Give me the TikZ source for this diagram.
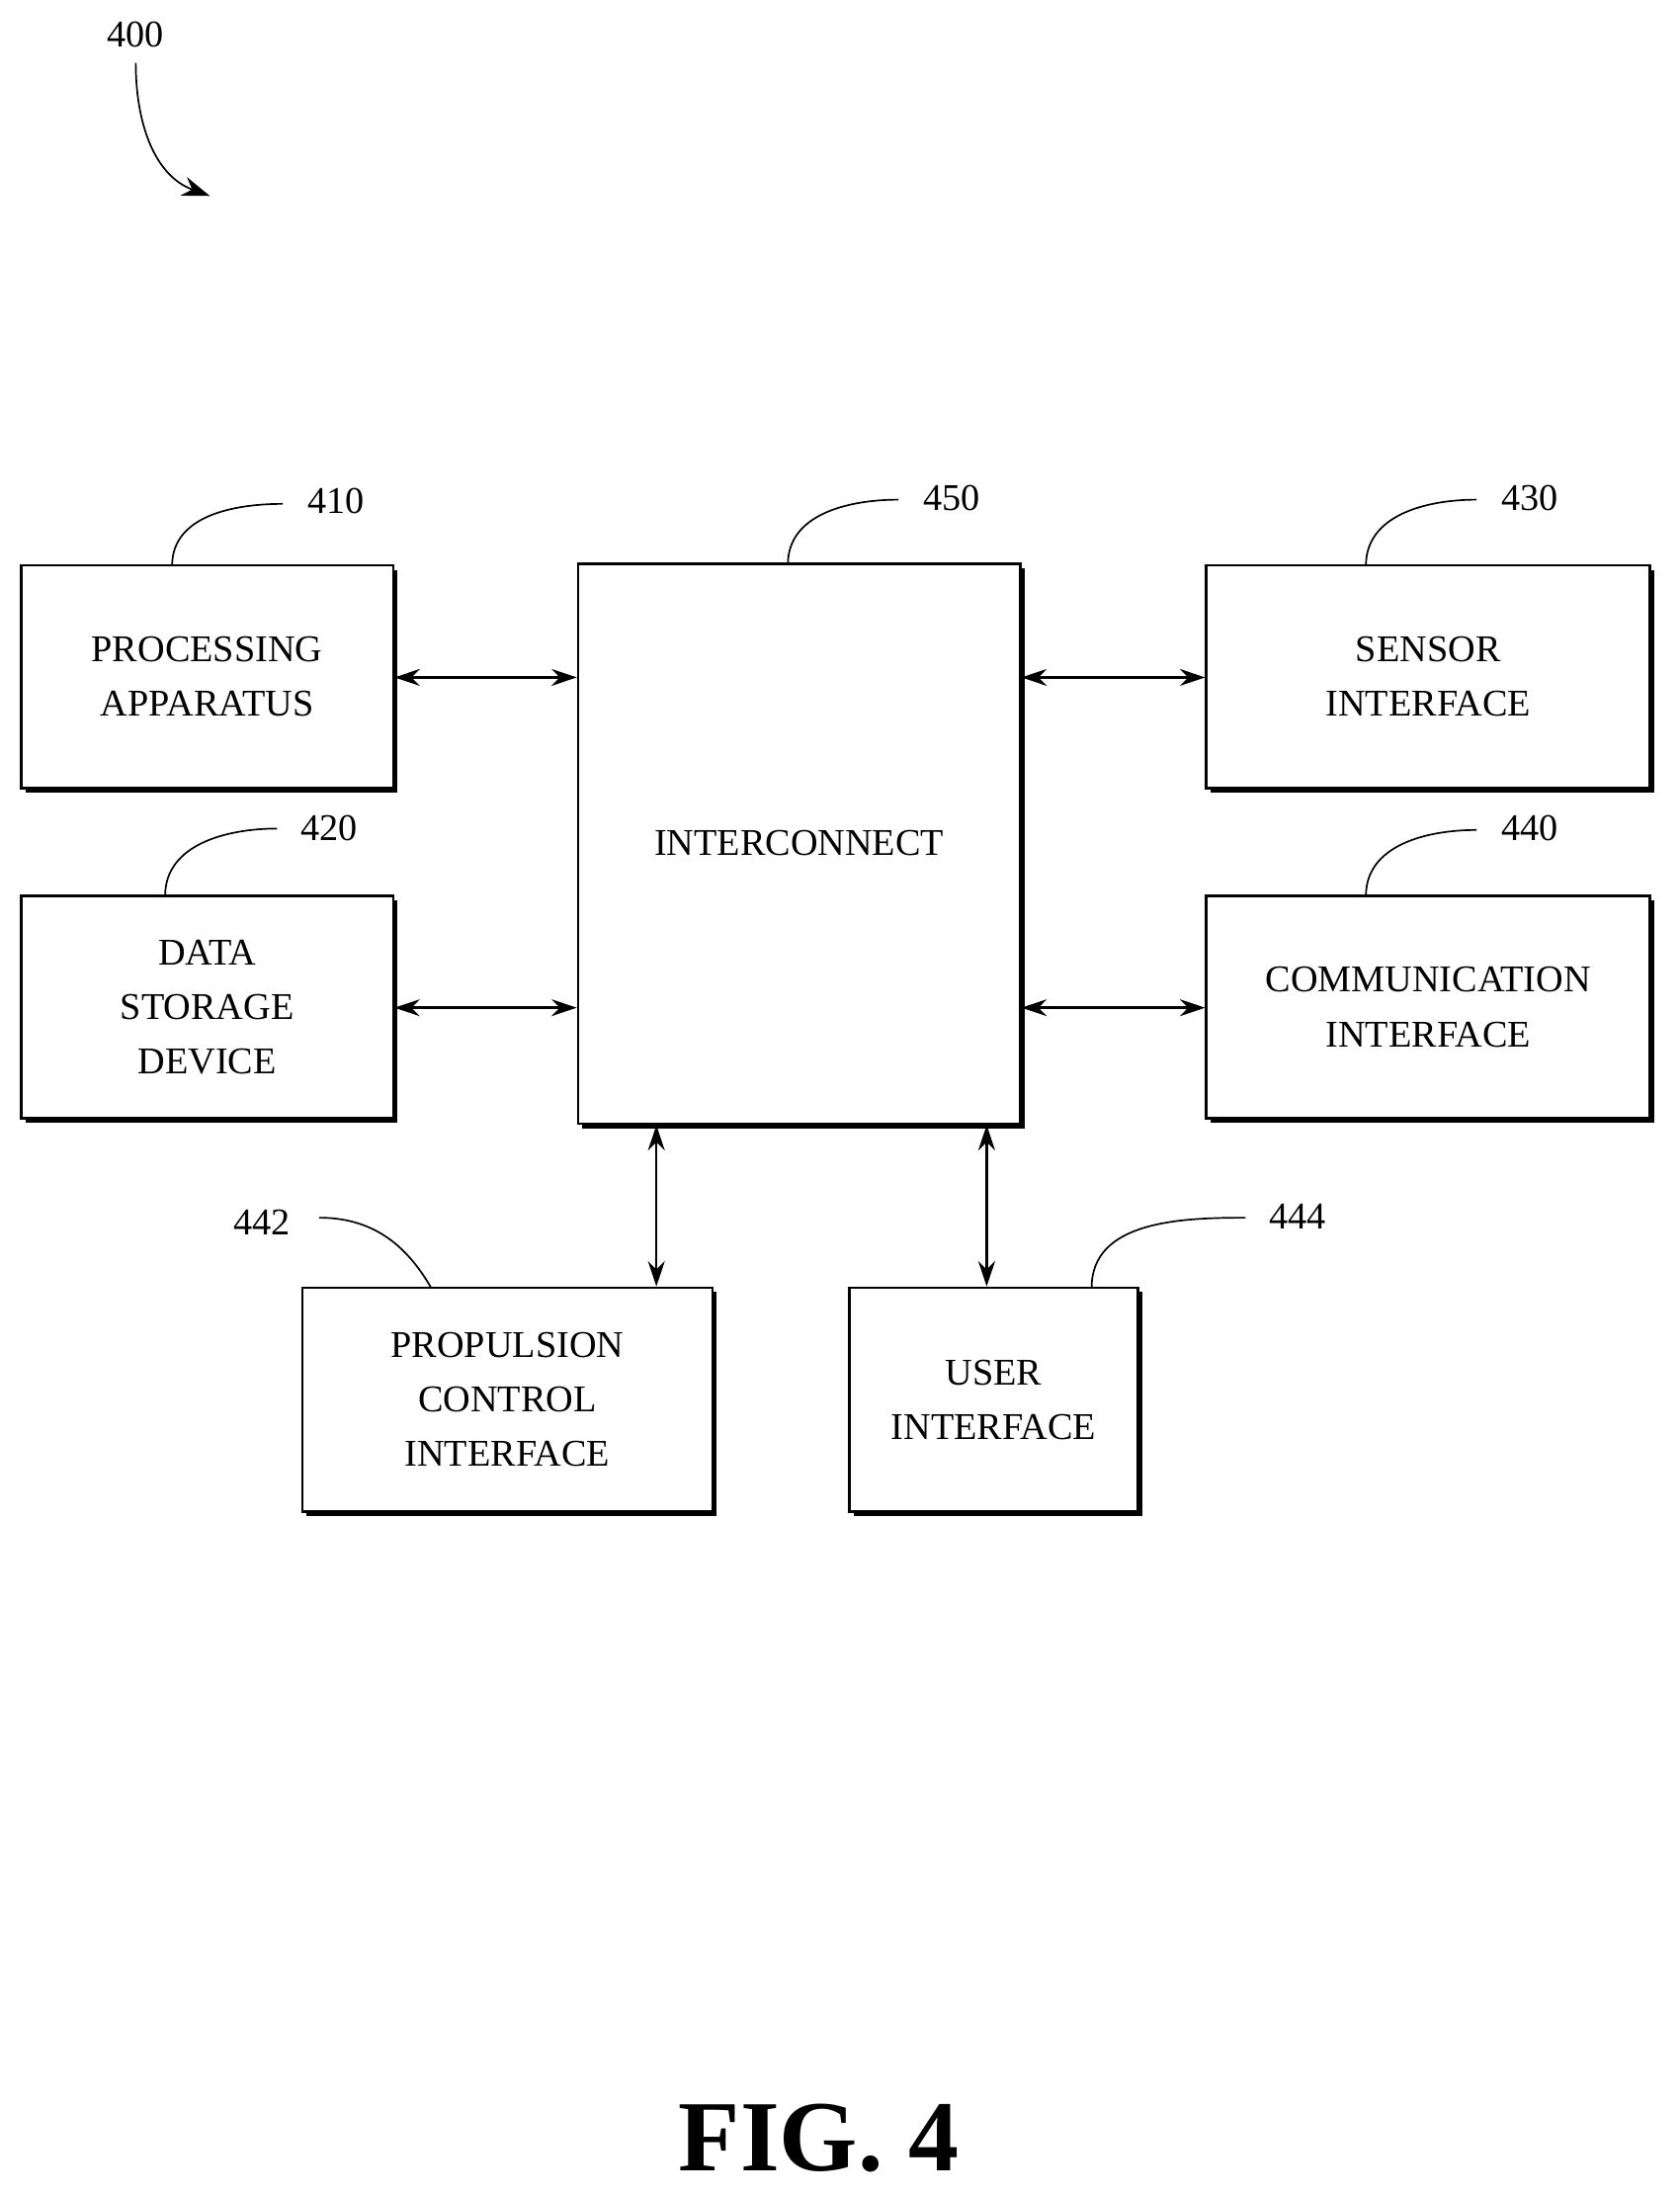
\documentclass[tikz,border=0pt]{standalone}
\usepackage{fontspec}
\setmainfont{Liberation Serif}
\usetikzlibrary{shadows,arrows.meta}
\begin{document}
\begin{tikzpicture}[x=0.5pt,y=-0.5pt,
 box/.style={draw,line width=0.9pt,fill=white,align=center,font=\fontsize{13.5}{19.5}\selectfont,
   general shadow={shadow xshift=1.6pt,shadow yshift=-1.6pt,fill=black}},
 lab/.style={font=\fontsize{13.5}{16}\selectfont},
 con/.style={{Stealth[length=9pt,width=6pt]}-{Stealth[length=9pt,width=6pt]},line width=0.9pt},
 lead/.style={line width=0.6pt}]
\useasboundingbox (0,0) rectangle (1200,1569);
\node[box,minimum width=133pt,minimum height=79.5pt] (p) at (148,483.5) {PROCESSING\\APPARATUS};
\node[box,minimum width=133pt,minimum height=79.5pt] (d) at (148,719.5) {DATA\\STORAGE\\DEVICE};
\node[box,minimum width=158pt,minimum height=200pt,text depth=0pt] (i) at (571,603) {};
\node[lab] (it) at (571,602) {INTERCONNECT};
\node[box,minimum width=158.5pt,minimum height=79.5pt] (s) at (1020.5,483.5) {SENSOR\\INTERFACE};
\node[box,minimum width=158.5pt,minimum height=79.5pt] (c) at (1020.5,719.5) {COMMUNICATION\\INTERFACE};
\node[box,minimum width=146.5pt,minimum height=80pt] (pr) at (362.5,1000) {PROPULSION\\CONTROL\\INTERFACE};
\node[box,minimum width=103pt,minimum height=80pt] (u) at (710,1000) {USER\\INTERFACE};
\draw[con] (p.east |- 0,484) -- (i.west |- 0,484);
\draw[con] (d.east |- 0,720) -- (i.west |- 0,720);
\draw[con] (s.west |- 0,484) -- (i.east |- 0,484);
\draw[con] (c.west |- 0,720) -- (i.east |- 0,720);
\draw[con] (i.south -| 469,0) -- (pr.north -| 469,0);
\draw[con] (i.south -| 705,0) -- (u.north -| 705,0);
\node[lab] (l400) at (97,25) {400};
\node[lab] (l410) at (240,358) {410};
\node[lab] (l420) at (235,592) {420};
\node[lab] (l450) at (680,356) {450};
\node[lab] (l430) at (1093,356) {430};
\node[lab] (l440) at (1093,592) {440};
\node[lab] (l442) at (187,873) {442};
\node[lab] (l444) at (927,869) {444};
\coordinate (a410) at (123,404); \coordinate (e410) at (202,360);
\coordinate (a420) at (118,640); \coordinate (e420) at (198,592);
\coordinate (a450) at (563,403); \coordinate (e450) at (642,357);
\coordinate (a430) at (976,404); \coordinate (e430) at (1055,357);
\coordinate (a440) at (976,640); \coordinate (e440) at (1055,593);
\coordinate (a442) at (308,920); \coordinate (e442) at (228,870);
\coordinate (a444) at (780,920); \coordinate (e444) at (890,870);
\foreach \n in {410,420,450,430,440,444}
  \draw[lead] (a\n) to[out=90,in=180] (e\n);
\draw[lead] (a442) to[out=120,in=0] (e442);
\coordinate (s400) at (97,45); \coordinate (t400) at (150,140);
\draw[line width=0.6pt,-{Stealth[length=10pt,width=7pt]}] (s400) to[out=-90,in=160] (t400);
\node[font=\bfseries\fontsize{36}{40}\selectfont] (fig) at (585,1528) {FIG. 4};
\end{tikzpicture}
\end{document}
